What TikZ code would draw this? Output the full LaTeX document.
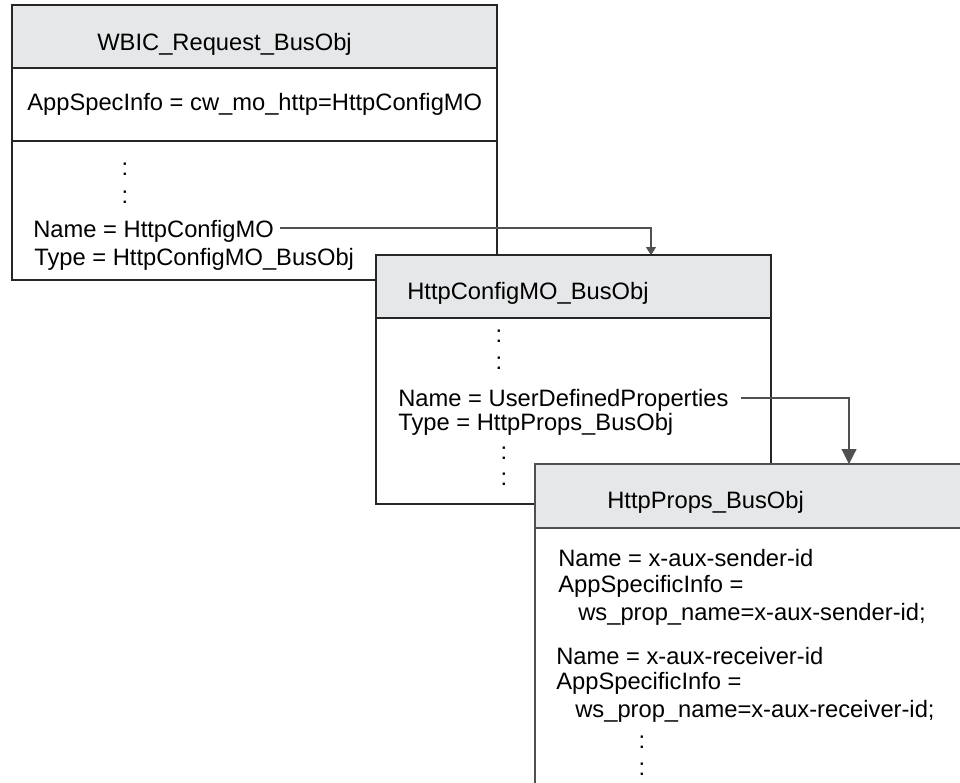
\documentclass[tikz,border=0pt]{standalone}
\usepackage{fontspec}
\setmainfont{Liberation Sans}
\usetikzlibrary{arrows.meta}
\definecolor{hdrgray}{HTML}{E6E7E8}
\definecolor{linegray}{HTML}{505050}

\tikzset{
 box/.style={draw=black!85, line width=0.7pt, fill=white},
 hdr/.style={draw=black!85, line width=0.7pt, fill=hdrgray},
 txt/.style={anchor=base west, inner sep=0pt, font=\fontsize{13.5}{16}\selectfont},
 colon/.style={anchor=base, inner sep=0pt, font=\fontsize{13.5}{16}\selectfont},
 link/.style={draw=linegray, line width=0.6pt},
}

\begin{document}
\begin{tikzpicture}[x=0.02cm, y=-0.02cm]
 \useasboundingbox (0,0) rectangle (960,782);
 \clip (0,0) rectangle (960,782);

 % WBIC_Request_BusObj
 \draw[box] (12,5) rectangle (497,280);
 \draw[hdr] (12,5) rectangle (497,68);
 \draw[box] (12,141) -- (497,141);
 \node[txt] (wbic) at (97,50) {WBIC\_Request\_BusObj};
 \node[txt] (wbicinfo) at (27,110) {AppSpecInfo = cw\_mo\_http=HttpConfigMO};
 \node[colon] (wbicd1) at (125,175) {:};
 \node[colon] (wbicd2) at (125,203) {:};
 \node[txt] (wbicname) at (33,237) {Name = HttpConfigMO};
 \node[txt] (wbictype) at (34,265) {Type = HttpConfigMO\_BusObj};

 \coordinate (cfgin) at (651,255);
 \draw[link, -{Triangle[width=5.7pt, length=4.5pt]}]
   ([shift={(6,-9)}]wbicname.base east) -| (cfgin);

 % HttpConfigMO_BusObj
 \draw[box] (376,255) rectangle (771,504);
 \draw[hdr] (376,255) rectangle (771,318);
 \node[txt] (cfg) at (407,299) {HttpConfigMO\_BusObj};
 \node[colon] (cfgd1) at (499,342) {:};
 \node[colon] (cfgd2) at (499,369) {:};
 \node[txt] (cfgname) at (398,406) {Name = UserDefinedProperties};
 \node[txt] (cfgtype) at (398,430) {Type = HttpProps\_BusObj};
 \node[colon] (cfgd3) at (504,459) {:};
 \node[colon] (cfgd4) at (504,485) {:};

 \coordinate (propsin) at (849,464);
 \draw[link, -{Triangle[width=8.5pt, length=8.5pt]}]
   ([shift={(12,-8)}]cfgname.base east) -| (propsin);

 % HttpProps_BusObj
 \draw[box, draw=linegray, line width=0.9pt] (535,464) rectangle (990,800);
 \draw[hdr, draw=linegray, line width=0.9pt] (535,464) rectangle (990,528);
 \node[txt] (props) at (607,508) {HttpProps\_BusObj};
 \node[txt] (sndname) at (558,566) {Name = x-aux-sender-id};
 \node[txt] (sndinfo) at (558,592) {AppSpecificInfo =};
 \node[txt] (sndprop) at (578,620) {ws\_prop\_name=x-aux-sender-id;};
 \node[txt] (rcvname) at (556,664) {Name = x-aux-receiver-id};
 \node[txt] (rcvinfo) at (556,689) {AppSpecificInfo =};
 \node[txt] (rcvprop) at (575,717) {ws\_prop\_name=x-aux-receiver-id;};
 \node[colon] (propsd1) at (642,748) {:};
 \node[colon] (propsd2) at (642,775) {:};
\end{tikzpicture}
\end{document}
